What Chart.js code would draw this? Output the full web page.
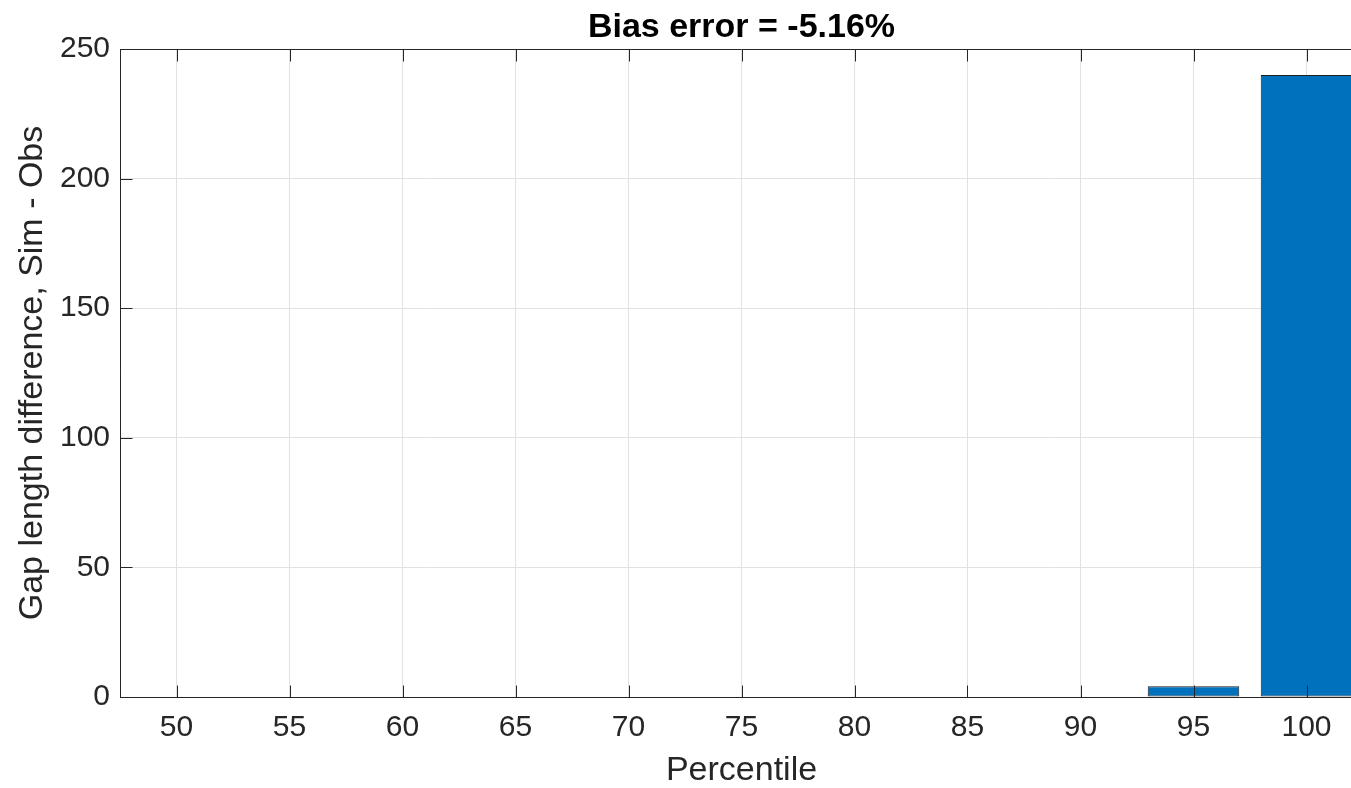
<!DOCTYPE html>
<html>
<head>
<meta charset="utf-8">
<script src="https://cdn.jsdelivr.net/npm/chart.js@4.4.0/dist/chart.umd.min.js"></script>
<style>
  html, body { margin: 0; padding: 0; background: #fff; overflow: hidden; }
  /* the reference is cut at the right edge, so the canvas is a bit wider than the window */
  #wrap { width: 1351px; height: 788px; overflow: hidden; }
  #box { width: 1380px; height: 788px; }
</style>
</head>
<body>
<div id="wrap"><div id="box"><canvas id="grafico"></canvas></div></div>
<script>
const percentiles = [50, 55, 60, 65, 70, 75, 80, 85, 90, 95, 100];
const diferencias = [0, 0, 0, 0, 0, 0, 0, 0, 0, 4.1, 240];
const yTicks = [0, 50, 100, 150, 200, 250];
const titulo = "Bias error = -5.16%";
const tituloX = "Percentile";
const tituloY = "Gap length difference, Sim - Obs";

const fuente = "'Liberation Sans', Arial, Helvetica, sans-serif";
const colorEje = "#262626";

// ticks hacia adentro + caja superior, estilo matlab
const ejesPlugin = {
  id: "ejesMatlab",
  afterDatasetsDraw(chart) {
    const { ctx, chartArea: a, scales: { x, y } } = chart;
    ctx.save();
    ctx.strokeStyle = colorEje;
    ctx.lineWidth = 1;
    ctx.beginPath();
    const top = Math.round(a.top) + 0.5;
    const bottom = Math.round(a.bottom) + 0.5;
    const left = Math.round(a.left) + 0.5;
    const right = Math.round(a.right) - 0.5;
    percentiles.forEach((v) => {
      const px = Math.round(x.getPixelForValue(v)) + 0.5;
      ctx.moveTo(px, bottom);
      ctx.lineTo(px, bottom - 12);
      ctx.moveTo(px, top);
      ctx.lineTo(px, top + 12);
    });
    yTicks.forEach((v) => {
      const py = Math.round(y.getPixelForValue(v)) + 0.5;
      ctx.moveTo(left, py);
      ctx.lineTo(left + 12, py);
    });
    ctx.moveTo(left, top);
    ctx.lineTo(right, top);
    ctx.lineTo(right, bottom);
    ctx.lineTo(left, bottom);
    ctx.lineTo(left, top);
    ctx.stroke();
    ctx.restore();
  },
  afterDraw(chart) {
    const { ctx, chartArea: a } = chart;
    ctx.save();
    ctx.font = `bold 34px ${fuente}`;
    ctx.fillStyle = "#000";
    ctx.textAlign = "center";
    ctx.textBaseline = "alphabetic";
    ctx.fillText(titulo, (a.left + a.right) / 2, 37);
    ctx.restore();
  },
};

const ctx = document.getElementById("grafico");

const cfg = {
  type: "bar",
  data: {
    datasets: [
      {
        label: "diferencia",
        data: percentiles.map((p, i) => ({ x: p, y: diferencias[i] })),
        backgroundColor: "#0072BD",
        borderColor: "#1f1f1f",
        borderWidth: 1,
        borderSkipped: false,
        categoryPercentage: 1,
        barPercentage: 0.81,
      },
    ],
  },
  options: {
    responsive: true,
    maintainAspectRatio: false,
    animation: false,
    layout: {
      padding: { top: 49, right: 17, left: 0, bottom: 0 },
    },
    plugins: {
      legend: { display: false },
      tooltip: { enabled: false },
      title: { display: false },
    },
    scales: {
      x: {
        type: "linear",
        min: 47.5,
        max: 102.5,
        offset: false,
        afterBuildTicks: (scale) => {
          scale.ticks = percentiles.map((v) => ({ value: v }));
        },
        afterFit: (scale) => {
          scale.height = 91;
        },
        grid: { color: "#e2e2e2", lineWidth: 1, drawTicks: false, offset: false },
        border: { display: true, color: colorEje, width: 1 },
        ticks: {
          color: colorEje,
          font: { family: fuente, size: 30 },
          padding: 13,
          maxRotation: 0,
          autoSkip: false,
        },
        title: {
          display: true,
          text: tituloX,
          color: colorEje,
          font: { family: fuente, size: 34, lineHeight: 1 },
          padding: { top: 0, bottom: 0 },
        },
      },
      y: {
        min: 0,
        max: 250,
        afterBuildTicks: (scale) => {
          scale.ticks = yTicks.map((v) => ({ value: v }));
        },
        afterFit: (scale) => {
          scale.width = 120;
        },
        grid: { color: "#e2e2e2", lineWidth: 1, drawTicks: false },
        border: { display: true, color: colorEje, width: 1 },
        ticks: {
          color: colorEje,
          font: { family: fuente, size: 30 },
          padding: 10,
        },
        title: {
          display: true,
          text: tituloY,
          color: colorEje,
          font: { family: fuente, size: 34, lineHeight: 1 },
          padding: { top: 16, bottom: 0 },
        },
      },
    },
  },
  plugins: [ejesPlugin],
};

const myChart = new Chart(ctx, cfg);
</script>
</body>
</html>
